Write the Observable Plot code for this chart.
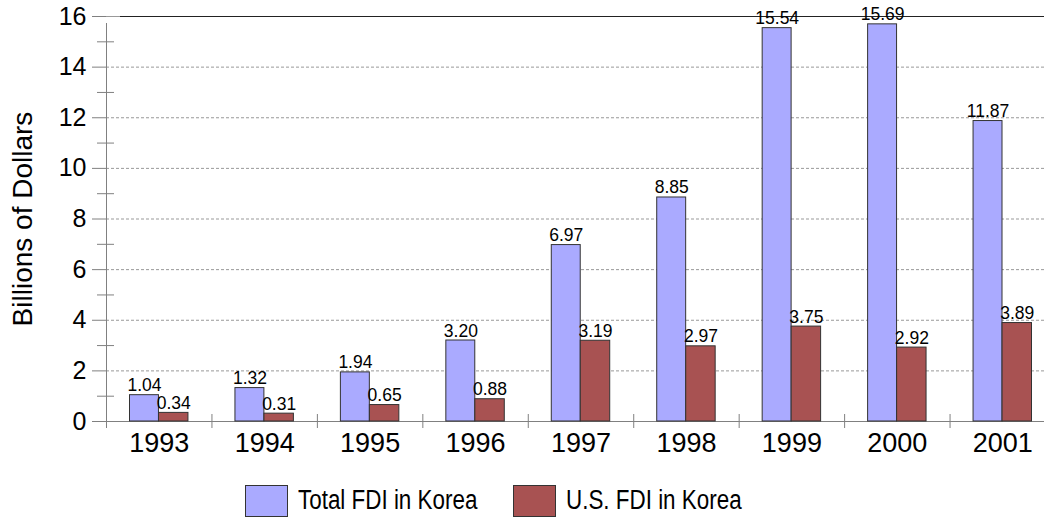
<!DOCTYPE html>
<html><head><meta charset="utf-8">
<script src="https://cdn.jsdelivr.net/npm/d3@7"></script>
<script src="https://cdn.jsdelivr.net/npm/@observablehq/plot@0.6"></script>
<style>
body{margin:0;background:#fff;overflow:hidden;font-family:"Liberation Sans",Arial,sans-serif;}
#legend{position:relative;height:49px;font-family:"Liberation Sans",Arial,sans-serif;font-size:27px;color:#000;}
.sw{position:absolute;top:15px;width:41px;height:30px;border:1px solid #333;box-sizing:content-box;}
.lbl{position:absolute;top:14px;line-height:32px;white-space:nowrap;transform:scaleX(0.83);transform-origin:0 50%;}
</style></head><body><div id="chart"></div><div id="legend"></div>
<script>
const years = ["1993","1994","1995","1996","1997","1998","1999","2000","2001"];
const totalFDI = [1.04,1.32,1.94,3.20,6.97,8.85,15.54,15.69,11.87];
const usFDI = [0.34,0.31,0.65,0.88,3.19,2.97,3.75,2.92,3.89];
const seriesNames = ["Total FDI in Korea","U.S. FDI in Korea"];
const seriesColors = ["#aaaaff","#a85252"];
const yMajorTicks = [0,2,4,6,8,10,12,14,16];
const yMinorTicks = [1,3,5,7,9,11,13,15];
const yLabel = "Billions of Dollars";

const fmt = d3.format(".2f");
const totalData = years.map((year,i)=>({year, value: totalFDI[i]}));
const usData = years.map((year,i)=>({year, value: usFDI[i]}));
const x0 = 106, x1 = 1055;
const step = (x1-x0)/years.length;
const axisGrey = "#808080";

const chart = Plot.plot({
  width:1044, height:470, marginLeft:106, marginRight:0, marginTop:16, marginBottom:49,
  x:{type:"band", domain:years, range:[x0,x1], padding:0, round:false},
  y:{domain:[0,16]},
  style:{fontFamily:"'Liberation Sans', Arial, sans-serif", background:"#fff", color:"#000", overflow:"visible"},
  marks:[
    Plot.ruleY(yMajorTicks.filter(d=>d>0 && d<16), {stroke:"#999", strokeDasharray:"3,2"}),
    Plot.ruleY([16], {stroke:"#999", insetRight:920}),
    Plot.ruleY([16], {stroke:"#222", insetLeft:14}),
    Plot.ruleY([0], {stroke:axisGrey}),
    Plot.barY(totalData, {x:"year", y:"value", fill:seriesColors[0], stroke:"#333", strokeWidth:1, insetLeft:23.5, insetRight:53}),
    Plot.barY(usData, {x:"year", y:"value", fill:seriesColors[1], stroke:"#333", strokeWidth:1, insetLeft:52.5, insetRight:23.5}),
    Plot.text(totalData, {x:"year", y:"value", text:d=>fmt(d.value), dx:-14.7, dy:-4, lineAnchor:"bottom", fontSize:17.5, fill:"#000"}),
    Plot.text(usData, {x:"year", y:"value", text:d=>fmt(d.value), dx:14.5, dy:-4, lineAnchor:"bottom", fontSize:17.5, fill:"#000"}),
    Plot.ruleX(years, {x:d=>d, y1:0, y2:0, dx:-step/2, insetTop:-7, insetBottom:-7, stroke:axisGrey}),
    Plot.ruleX([years[0]], {x:d=>d, y1:0, y2:16, dx:-step/2, insetBottom:-7, stroke:axisGrey}),
    Plot.axisY(yMajorTicks, {tickSize:14, tickPadding:6, fontSize:25, stroke:axisGrey, fill:"#000", label:null}),
    Plot.axisY(yMinorTicks, {tickSize:17, dx:8, tickFormat:()=>"", label:null, stroke:axisGrey}),
    Plot.axisX({tickSize:0, tickPadding:11, fontSize:27, label:null, fill:"#000"}),
    Plot.text([yLabel], {frameAnchor:"left", textAnchor:"middle", rotate:-90, dx:-83, fontSize:28, fill:"#000"})
  ]
});
document.getElementById("chart").appendChild(chart);

const legend = document.getElementById("legend");
const swatchLeft = [245, 513];
seriesNames.forEach((name,i)=>{
  const sw = document.createElement("div");
  sw.className = "sw"; sw.style.background = seriesColors[i]; sw.style.left = swatchLeft[i] + "px";
  const t = document.createElement("span");
  t.className = "lbl"; t.textContent = name; t.style.left = (swatchLeft[i] + 53) + "px";
  legend.appendChild(sw); legend.appendChild(t);
});
</script></body></html>
